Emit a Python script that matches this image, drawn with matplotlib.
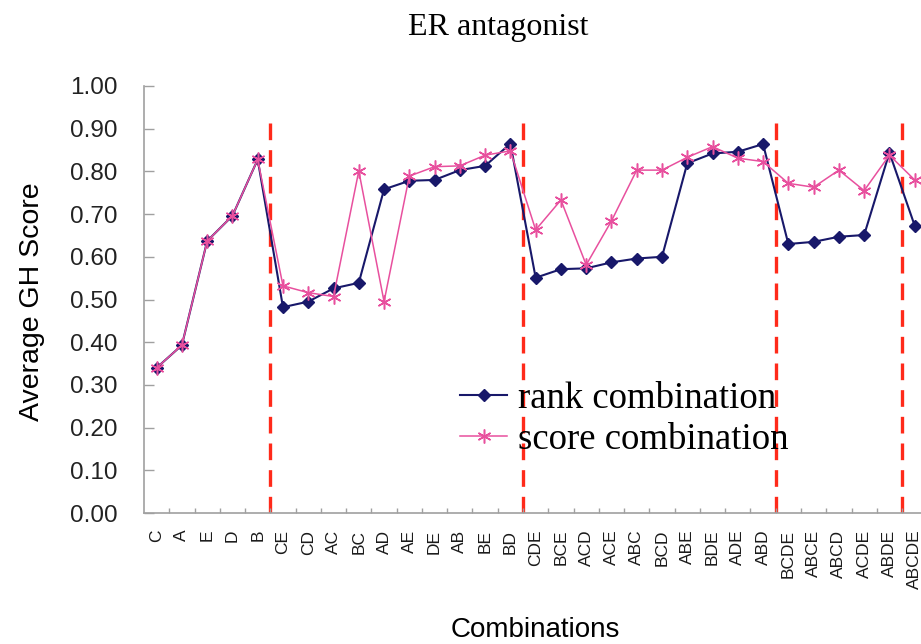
import numpy as np
import matplotlib
matplotlib.use('Agg')
import matplotlib.pyplot as plt

# GH scores of every feature combination, ordered by combination size
combos = ['C', 'A', 'E', 'D', 'B',
          'CE', 'CD', 'AC', 'BC', 'AD', 'AE', 'DE', 'AB', 'BE', 'BD',
          'CDE', 'BCE', 'ACD', 'ACE', 'ABC', 'BCD', 'ABE', 'BDE', 'ADE', 'ABD',
          'BCDE', 'ABCE', 'ABCD', 'ACDE', 'ABDE', 'ABCDE']
rank_comb = [0.340, 0.393, 0.637, 0.696, 0.828,
             0.482, 0.495, 0.526, 0.539, 0.758, 0.778, 0.780, 0.803, 0.813, 0.865,
             0.551, 0.571, 0.573, 0.587, 0.596, 0.600, 0.819, 0.842, 0.846, 0.864,
             0.630, 0.635, 0.647, 0.651, 0.844, 0.673]
score_comb = [0.340, 0.393, 0.637, 0.696, 0.828,
              0.532, 0.516, 0.507, 0.801, 0.495, 0.789, 0.811, 0.813, 0.838, 0.848,
              0.663, 0.733, 0.581, 0.684, 0.803, 0.803, 0.833, 0.858, 0.831, 0.823,
              0.772, 0.763, 0.803, 0.755, 0.838, 0.780]
# boundaries between groups of 1, 2, 3, 4 and 5 features
group_breaks = [4.5, 14.5, 24.5, 29.5]
y_ticks = [0.0, 0.1, 0.2, 0.3, 0.4, 0.5, 0.6, 0.7, 0.8, 0.9, 1.0]

sans = ['Liberation Sans', 'DejaVu Sans']
serif = ['Liberation Serif', 'DejaVu Serif']

fig = plt.figure(figsize=(9.21, 6.44), dpi=100)
ax = fig.add_axes([144 / 921, 1 - 513 / 644, 1 - 144 / 921, (513 - 86) / 644])

x = np.arange(len(combos))
ax.vlines(group_breaks, 0, 0.915, colors='#ff2a1a', linewidth=2.4,
          linestyles=(0, (5, 3)), zorder=1)
ax.plot(x, rank_comb, color='#18186a', lw=1.5, marker='D', markersize=6,
        label='rank combination', zorder=3)
ax.plot(x, score_comb, color='#e8509e', lw=1.1, marker=(6, 2, 0), markersize=10,
        markeredgewidth=1.1, label='score combination', zorder=4)

ax.set_xlim(-0.5, 30.25)
ax.set_ylim(0, 1.0)
ax.set_yticks(y_ticks)
ax.set_yticklabels(['%.2f' % v for v in y_ticks], fontsize=17.5, family=sans, color='#222222')
ax.set_xticks(x)
ax.set_xticklabels(combos, rotation=90, fontsize=12.5, family=sans, color='#1a1a1a',
                   va='top', ha='center')
ax.set_xticks(np.arange(0.5, 30.5, 1), minor=True)
ax.tick_params(axis='y', direction='in', length=7.2, width=1, color='#a0a0a0', pad=19)
ax.tick_params(axis='x', which='major', length=0, pad=12)
ax.tick_params(axis='x', which='minor', direction='in', length=3.6, width=1, color='#a0a0a0')

for side in ['top', 'right']:
    ax.spines[side].set_visible(False)
for side in ['left', 'bottom']:
    ax.spines[side].set_color('#a0a0a0')
    ax.spines[side].set_linewidth(1.2)

leg = ax.legend(loc='center left', bbox_to_anchor=(460 / 921, 1 - 419.5 / 644),
                bbox_transform=fig.transFigure, frameon=False,
                prop={'family': serif, 'size': 26.5}, handlelength=1.28,
                handletextpad=0.3, labelspacing=0.18, borderpad=0, borderaxespad=0)

fig.text(498 / 921, 1 - 27 / 644, 'ER antagonist', ha='center', va='center',
         fontsize=23, family=serif)
fig.text(32 / 921, 1 - 301.5 / 644, 'Average GH Score', ha='center', va='center',
         rotation=90, fontsize=20.5, family=sans)
fig.text(535 / 921, 1 - 630 / 644, 'Combinations', ha='center', va='center',
         fontsize=20, family=sans)

fig.savefig('out.png', dpi=100)
